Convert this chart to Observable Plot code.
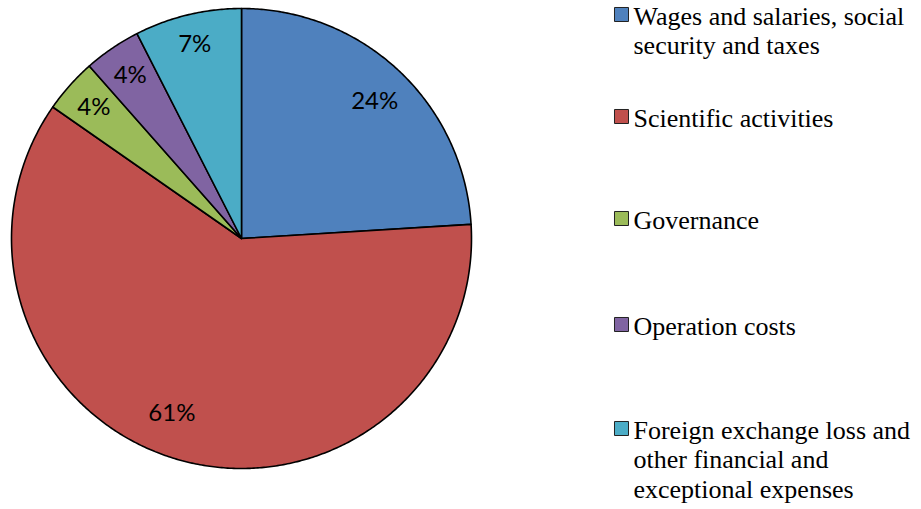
<!DOCTYPE html>
<html>
<head>
<meta charset="utf-8">
<script src="https://cdn.jsdelivr.net/npm/d3@7"></script>
<script src="https://cdn.jsdelivr.net/npm/@observablehq/plot@0.6"></script>
<style>
  html, body { margin: 0; padding: 0; background: #fff; }
</style>
</head>
<body>
<div id="chart"></div>
<script>
// Data
const categories = [
  "Wages and salaries, social security and taxes",
  "Scientific activities",
  "Governance",
  "Operation costs",
  "Foreign exchange loss and other financial and exceptional expenses"
];
const shares = [24.0, 60.6, 3.8, 4.0, 7.5];
const labels = ["24%", "61%", "4%", "4%", "7%"];
const colors = ["#4F81BD", "#C0504D", "#9BBB59", "#8064A2", "#4BACC6"];

// Layout (styling only, in pixels)
const W = 921, H = 509, CX = 241, CY = 238, R = 230;
const legendBaselines = [22, 124, 226, 332, 436];
const legendSwatchX = 621, legendTextX = 633;
const labelRadius = [0.83, 0.82, 0.86, 0.86, 0.87];
const labelShiftDeg = [1, 6, 0, 0, 0];

const px2x = p => (p - CX) / R;
const px2y = p => (CY - p) / R;

const pie = d3.pie().sort(null).value(d => d)(shares);

const slicePts = [];
const labelPts = [];
pie.forEach((p, i) => {
  const a0 = p.startAngle, a1 = p.endAngle;
  const n = Math.max(4, Math.ceil((a1 - a0) / (Math.PI / 360)));
  slicePts.push({name: categories[i], x: 0, y: 0});
  for (let k = 0; k <= n; k++) {
    const a = a0 + (a1 - a0) * k / n;
    slicePts.push({name: categories[i], x: Math.sin(a), y: Math.cos(a)});
  }
  const m = (a0 + a1) / 2 + labelShiftDeg[i] * Math.PI / 180;
  const rr = labelRadius[i];
  labelPts.push({name: categories[i], label: labels[i], x: rr * Math.sin(m), y: rr * Math.cos(m)});
});

const legendItems = categories.map((c, i) => ({
  name: c,
  sx: px2x(legendSwatchX),
  tx: px2x(legendTextX),
  sy: px2y(legendBaselines[i] - 8),
  ty: px2y(legendBaselines[i] - 18.5)
}));

const chart = Plot.plot({
  width: W,
  height: H,
  marginTop: 0, marginRight: 0, marginBottom: 0, marginLeft: 0,
  x: {domain: [px2x(0), px2x(W)], range: [0, W], axis: null},
  y: {domain: [px2y(H), px2y(0)], range: [H, 0], axis: null},
  color: {domain: categories, range: colors},
  style: {background: "transparent", fontFamily: "Times New Roman"},
  marks: [
    Plot.text(legendItems, {x: "tx", y: "ty", text: "name", textAnchor: "start", lineAnchor: "top", lineWidth: 13, lineHeight: 1.135, fontSize: 26, fontFamily: "Times New Roman", fill: "#000"}),
    Plot.dot(legendItems, {x: "sx", y: "sy", symbol: "square", r: 7.9, fill: "name", stroke: "#222", strokeWidth: 1}),
    Plot.line(slicePts, {x: "x", y: "y", z: "name", fill: "name", stroke: "#000", strokeWidth: 1.6, curve: "linear-closed", strokeLinejoin: "round"}),
    Plot.text(labelPts, {x: "x", y: "y", text: "label", fontSize: 24, fontFamily: "Lato", fill: "#000"})
  ]
});
document.getElementById("chart").appendChild(chart);
</script>
</body>
</html>
